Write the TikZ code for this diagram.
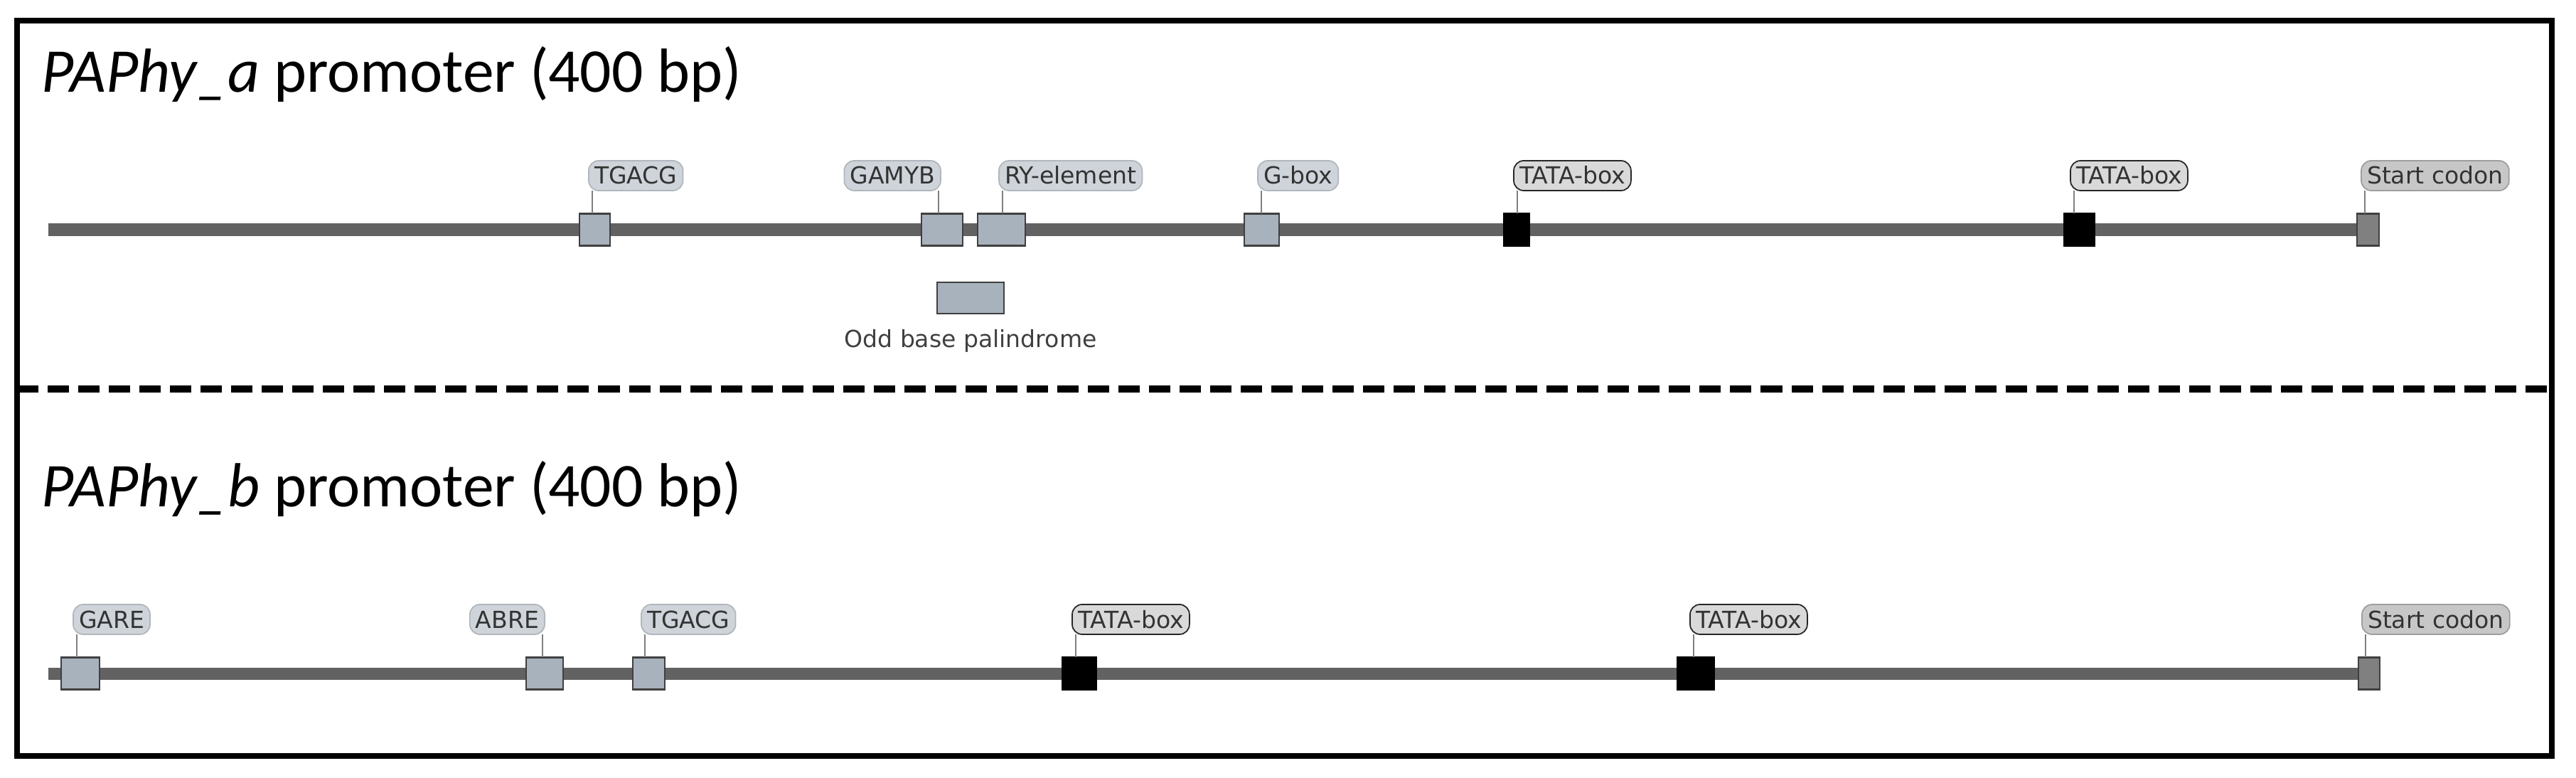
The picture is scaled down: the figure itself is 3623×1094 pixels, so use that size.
\documentclass[tikz,border=0pt]{standalone}
\usepackage{fontspec}
\setmainfont{Carlito}
\newfontfamily\tagfont{DejaVu Sans}
\usetikzlibrary{calc}
\definecolor{trackgray}{RGB}{98,98,98}
\definecolor{motifblue}{RGB}{168,178,188}
\definecolor{tagblue}{RGB}{206,212,218}
\definecolor{tagedge}{RGB}{176,182,188}

\begin{document}
\begin{tikzpicture}[x=.01cm,y=-.01cm,
  motif/.style={draw=black!75,line width=.7pt,fill=motifblue,inner sep=0,outer sep=0,minimum height=.45cm},
  tata/.style={motif,fill=black,draw=black},
  atg/.style={motif,fill=black!50},
  tag/.style={font=\tagfont\fontsize{9.4}{11}\selectfont,text=black!80,fill=tagblue,draw=tagedge,line width=.5pt,rounded corners=4pt,inner xsep=.08cm,inner ysep=.07cm,text height=.26cm,text depth=.02cm,outer sep=0},
  tagR/.style={anchor=south west,xshift=-.05cm},
  tagL/.style={anchor=south east,xshift=.03cm},
  tagT/.style={tagR,fill=black!15,draw=black!85},
  tagS/.style={tagR,fill=black!22,draw=black!38},
  leader/.style={draw=black!50,line width=.5pt},
  title/.style={font=\fontsize{24.9}{29}\selectfont,anchor=base west,inner sep=0}]
\useasboundingbox (0,0) rectangle (3623,1094);
\draw[line width=.08cm] (24,29.5) rectangle (3589,1063);
\draw[line width=.1cm,dash pattern=on .3cm off .13cm] (24,547)--(3589,547);

% PAPhy_a
\node[title] (ttla) at (58,130) {\textit{PAPhy\_a} promoter (400 bp)};
\coordinate (aS) at (68,323); \coordinate (aE) at (3316,323);
\draw[trackgray,line width=.17cm] (aS)--(aE);
\foreach \nm/\bx/\bw/\bs/\lx/\txt/\ts in {aTG/836.5/43/motif/833/TGACG/tagR,aGM/1325/58/motif/1320/GAMYB/tagL,
  aRY/1408.5/67/motif/1410/RY-element/tagR,aGB/1774.5/49/motif/1774/G-box/tagR,aTa/2133/36/tata/2134/TATA-box/tagT,
  aTb/2924.5/43/tata/2917/TATA-box/tagT,aSC/3330.5/31/atg/3326/Start codon/tagS}{
  \node[\bs,minimum width=\bw*.01cm] (\nm) at (\bx,323) {};
  \coordinate (t\nm) at (\lx,268);
  \node[tag,\ts] (l\nm) at (t\nm) {\txt};
  \draw[leader] (t\nm)--(t\nm |- \nm.north);
}
\node[motif,minimum width=.94cm,minimum height=.44cm] (odd) at (1365,419) {};
\node[font=\tagfont\fontsize{9.4}{11}\selectfont,text=black!75,anchor=base,inner sep=0] (oddl) at (1365,488) {Odd base palindrome};

% PAPhy_b
\node[title] (ttlb) at (58,712) {\textit{PAPhy\_b} promoter (400 bp)};
\coordinate (bS) at (68,947); \coordinate (bE) at (3318,947);
\draw[trackgray,line width=.17cm] (bS)--(bE);
\foreach \nm/\bx/\bw/\bs/\lx/\txt/\ts in {bGA/113/54/motif/108/GARE/tagR,bAB/766/52/motif/763/ABRE/tagL,
  bTG/912.5/45/motif/907/TGACG/tagR,bTa/1518/48/tata/1513/TATA-box/tagT,bTb/2385/52/tata/2382/TATA-box/tagT,
  bSC/3332/30/atg/3327/Start codon/tagS}{
  \node[\bs,minimum width=\bw*.01cm] (\nm) at (\bx,947) {};
  \coordinate (t\nm) at (\lx,892);
  \node[tag,\ts] (l\nm) at (t\nm) {\txt};
  \draw[leader] (t\nm)--(t\nm |- \nm.north);
}
\end{tikzpicture}
\end{document}
